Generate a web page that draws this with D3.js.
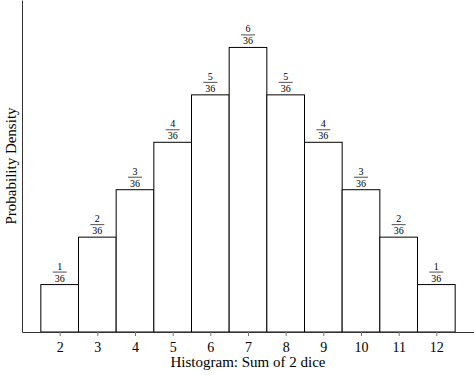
<!DOCTYPE html>
<html lang="en">
<head>
    <meta charset="UTF-8">
    <title>Histogram: Sum of 2 dice</title>
    <script src="https://d3js.org/d3.v7.min.js"></script>
    <style>
        body { margin: 0; background: #fff; }
        svg text { font-family: "Liberation Serif", "DejaVu Serif", serif; fill: #000; }
        .tick text { font-size: 14px; }
        .axis path { stroke: #333; }
        .axis line { stroke: #777; }
    </style>
</head>
<body>
    <script>
        // data
        const sums = [2, 3, 4, 5, 6, 7, 8, 9, 10, 11, 12];
        const ways = [1, 2, 3, 4, 5, 6, 5, 4, 3, 2, 1];   // numerator over 36
        const total = 36;

        const width = 474, height = 375;
        const margin = { top: 0, right: 0, bottom: 43, left: 22 };
        const innerW = width - margin.left - margin.right;
        const innerH = height - margin.top - margin.bottom;

        const svg = d3.select("body").append("svg")
            .attr("width", width)
            .attr("height", height);

        const g = svg.append("g")
            .attr("transform", `translate(${margin.left},${margin.top})`);

        const x = d3.scaleLinear().domain([1, 13]).range([0, innerW]);
        const y = d3.scaleLinear().domain([0, 7 / total]).range([innerH, 0]);

        const data = sums.map((s, i) => ({ sum: s, n: ways[i], p: ways[i] / total }));

        // bars
        g.selectAll("rect.bar")
            .data(data)
            .enter().append("rect")
            .attr("class", "bar")
            .attr("x", d => x(d.sum - 0.5))
            .attr("y", d => y(d.p))
            .attr("width", d => x(d.sum + 0.5) - x(d.sum - 0.5))
            .attr("height", d => innerH - y(d.p))
            .attr("fill", "#fff")
            .attr("stroke", "#000")
            .attr("stroke-width", 1);

        // fraction labels above bars
        const lab = g.selectAll("g.frac")
            .data(data)
            .enter().append("g")
            .attr("class", "frac")
            .attr("transform", d => `translate(${x(d.sum)},${y(d.p)})`);

        lab.append("text")
            .attr("y", -15)
            .attr("text-anchor", "middle")
            .style("font-size", "10px")
            .text(d => d.n);

        lab.append("line")
            .attr("x1", -7).attr("x2", 7)
            .attr("y1", -12.5).attr("y2", -12.5)
            .attr("stroke", "#000")
            .attr("stroke-width", 0.7);

        lab.append("text")
            .attr("y", -3)
            .attr("text-anchor", "middle")
            .style("font-size", "10px")
            .text(total);

        // axes
        g.append("g")
            .attr("class", "axis")
            .attr("transform", `translate(0,${innerH})`)
            .call(d3.axisBottom(x).tickValues(sums).tickSize(4).tickSizeOuter(0).tickPadding(6));

        g.append("g")
            .attr("class", "axis")
            .call(d3.axisLeft(y).tickValues([]).tickSizeOuter(0));

        // axis titles
        svg.append("text")
            .attr("x", margin.left + x(7))
            .attr("y", 367)
            .attr("text-anchor", "middle")
            .style("font-size", "15px")
            .text("Histogram: Sum of 2 dice");

        svg.append("text")
            .attr("transform", `translate(16,${innerH / 2}) rotate(-90)`)
            .attr("text-anchor", "middle")
            .style("font-size", "15px")
            .text("Probability Density");
    </script>
</body>
</html>
